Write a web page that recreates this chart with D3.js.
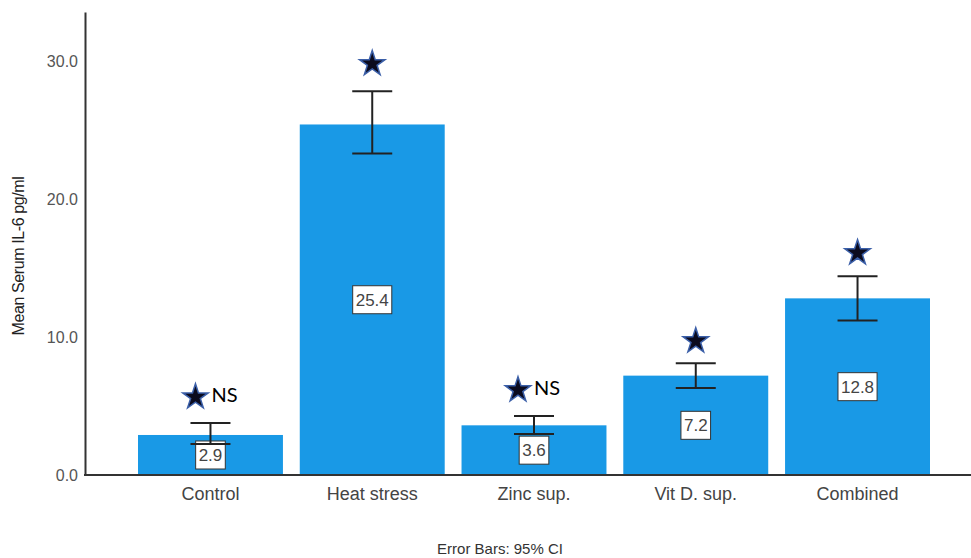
<!DOCTYPE html>
<html>
<head>
<meta charset="utf-8">
<script src="https://cdn.jsdelivr.net/npm/d3@7"></script>
<style>
  html, body { margin: 0; padding: 0; background: #fff; }
  svg { display: block; }
</style>
</head>
<body>
<svg id="chart" width="971" height="558"></svg>
<script>
const categories = ["Control", "Heat stress", "Zinc sup.", "Vit D. sup.", "Combined"];
const means = [2.9, 25.4, 3.6, 7.2, 12.8];
const ciLower = [2.25, 23.3, 2.97, 6.3, 11.2];
const ciUpper = [3.77, 27.8, 4.28, 8.1, 14.4];
const starLevel = [5.65, 29.8, 6.16, 9.71, 16.09];
const starNote = ["NS", "", "NS", "", ""];
const yTicks = [0, 10, 20, 30];

const svg = d3.select("#chart");
const x = d3.scaleBand().domain(categories).range([138, 930]).paddingInner(0.104).paddingOuter(0);
const y = d3.scaleLinear().domain([0, 33.55]).range([475, 12]);

const barColor = "#1999e6";

// bars
svg.append("g").selectAll("rect").data(categories).join("rect")
  .attr("x", d => x(d))
  .attr("y", (d, i) => y(means[i]))
  .attr("width", x.bandwidth())
  .attr("height", (d, i) => y(0) - y(means[i]))
  .attr("fill", barColor);

// y axis
const yAxis = svg.append("g").attr("transform", "translate(85,0)")
  .call(d3.axisLeft(y).tickValues(yTicks).tickFormat(d3.format(".1f")).tickSize(0).tickPadding(7));
yAxis.select(".domain").attr("stroke", "#333").attr("stroke-width", 2);
yAxis.selectAll("text").attr("font-family", "Liberation Sans, Arial, sans-serif").attr("font-size", 16).attr("fill", "#555");

// x axis
const xAxis = svg.append("g").attr("transform", "translate(0,475)")
  .call(d3.axisBottom(x).tickSize(0).tickPadding(12));
xAxis.select(".domain").attr("d", "M84,0H971").attr("stroke", "#333").attr("stroke-width", 2);
xAxis.selectAll("text").attr("font-family", "Liberation Sans, Arial, sans-serif").attr("font-size", 18).attr("fill", "#444");

// value labels
const lab = svg.append("g").selectAll("g").data(categories).join("g")
  .attr("transform", (d, i) => `translate(${x(d) + x.bandwidth() / 2},${y(means[i] / 2)})`);
lab.append("text")
  .attr("text-anchor", "middle").attr("dy", "0.36em")
  .attr("font-family", "Liberation Sans, Arial, sans-serif").attr("font-size", 17).attr("fill", "#444")
  .text((d, i) => means[i].toFixed(1));
lab.each(function () {
  const g = d3.select(this);
  const w = g.select("text").node().getComputedTextLength() + 6;
  g.insert("rect", "text").attr("x", -w / 2).attr("y", -14).attr("width", w).attr("height", 28)
    .attr("fill", "#fff").attr("stroke", "#333").attr("stroke-width", 1);
});

// error bars
const eb = svg.append("g").attr("stroke", "#222").attr("stroke-width", 2).attr("fill", "none");
categories.forEach((c, i) => {
  const cx = x(c) + x.bandwidth() / 2;
  eb.append("line").attr("x1", cx).attr("x2", cx).attr("y1", y(ciLower[i])).attr("y2", y(ciUpper[i]));
  eb.append("line").attr("x1", cx - 20).attr("x2", cx + 20).attr("y1", y(ciLower[i])).attr("y2", y(ciLower[i]));
  eb.append("line").attr("x1", cx - 20).attr("x2", cx + 20).attr("y1", y(ciUpper[i])).attr("y2", y(ciUpper[i]));
});

// stars
const starOffset = [-15, 0, -16, 0, 0];
const st = svg.append("g");
categories.forEach((c, i) => {
  const cx = x(c) + x.bandwidth() / 2 + starOffset[i];
  const cy = y(starLevel[i]);
  st.append("path").attr("d", d3.symbol(d3.symbolStar, 200)())
    .attr("transform", `translate(${cx},${cy})`)
    .attr("fill", "#0b0b1e").attr("stroke", "#3b5fa8").attr("stroke-width", 1.5);
  if (starNote[i]) {
    st.append("text").attr("x", cx + 16).attr("y", cy + 5)
      .attr("font-family", "Lato, 'Open Sans', sans-serif").attr("font-size", 20).attr("fill", "#000")
      .text(starNote[i]);
  }
});

// y label
svg.append("text")
  .attr("transform", "translate(24,256) rotate(-90)")
  .attr("text-anchor", "middle")
  .attr("font-family", "Liberation Sans, Arial, sans-serif").attr("font-size", 16).attr("fill", "#222")
  .attr("letter-spacing", -0.4)
  .text("Mean Serum IL-6 pg/ml");

// footnote
svg.append("text")
  .attr("x", 500).attr("y", 554).attr("text-anchor", "middle")
  .attr("font-family", "Liberation Sans, Arial, sans-serif").attr("font-size", 15).attr("fill", "#333")
  .text("Error Bars: 95% CI");
</script>
</body>
</html>
